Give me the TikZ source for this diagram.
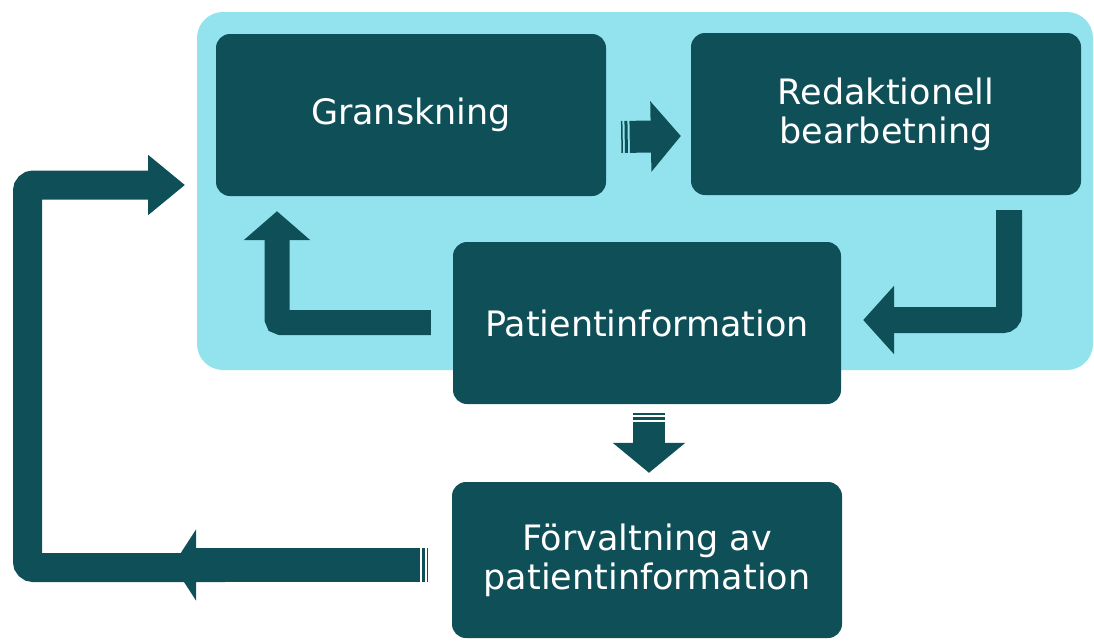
\documentclass[tikz,border=0pt]{standalone}
\usepackage{fontspec}
\setmainfont{DejaVu Sans}
\usetikzlibrary{arrows.meta}
\definecolor{petrol}{HTML}{0F4F58}
\definecolor{sky}{HTML}{93E3EE}

\begin{document}
\begin{tikzpicture}[
    x=1pt, y=-1pt,
    stage/.style={
        fill=petrol, text=white,
        rounded corners=14pt,
        minimum width=390pt, minimum height=162pt,
        align=center,
        font=\fontsize{35}{39}\selectfont
    },
    flow/.style={draw=petrol, line width=#1},
    flow/.default=32pt,
    tails/.style={dash pattern=on 1.5pt off 2pt on 3pt off 2pt on 900pt}
    ]

    \useasboundingbox (0,0) rectangle (1094,640);
    % light panel behind the review loop
    \fill[sky, rounded corners=26pt] (197,12) rectangle (1093,370);

    \node[stage] (gran) at (411,115) {Granskning};
    \node[stage] (red) at (886,114) {Redaktionell\\bearbetning};
    \node[stage, minimum width=388pt] (pat) at (647,323) {Patientinformation};
    \node[stage, minimum height=156pt] (forv) at (647,560) {Förvaltning av\\patientinformation};

    \coordinate (loopstart) at (225,567.5);
    \coordinate (loopend) at (185,185);

    % arrows
    \draw[flow, tails, -{Triangle[length=30pt,width=69pt]}] ([shift={(15,22)}]gran.east) -- ([shift={(-10,22)}]red.west);
    \draw[flow=26pt, rounded corners=6pt, -{Triangle[length=31pt,width=67pt]}] ([shift={(123,15)}]red.south) |- ([shift={(22,-3)}]pat.east);
    \draw[flow=25pt, rounded corners=4pt, -{Triangle[length=29pt,width=65pt]}] ([shift={(-22,-0.5)}]pat.west) -| ([shift={(-134,15)}]gran.south);
    \draw[flow, tails, -{Triangle[length=30pt,width=71pt]}] ([shift={(2,9)}]pat.south) -- ([shift={(2,-9)}]forv.north);
    \draw[flow=29pt, rounded corners=6pt, -{Triangle[length=37pt,width=58pt]}] (loopstart) -- (27.5,567.5) -- (27.5,185) -- (loopend);
    \draw[flow=34pt, tails, -{Triangle[length=23pt,width=70pt]}] ([shift={(-23.5,5)}]forv.west) -- (173,565);
\end{tikzpicture}
\end{document}
